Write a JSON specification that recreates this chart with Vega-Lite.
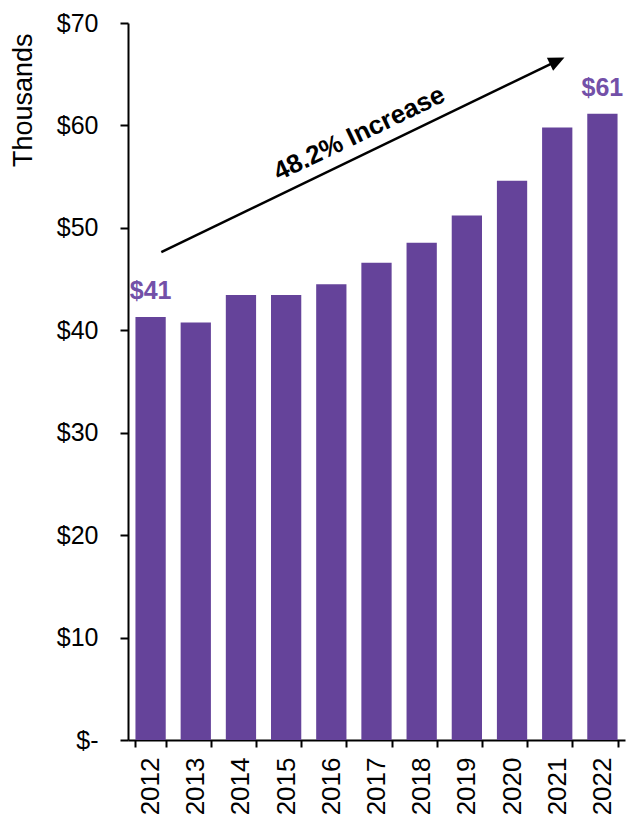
{
  "$schema": "https://vega.github.io/schema/vega-lite/v6.json",
  "autosize": "none",
  "padding": {"left": 128, "top": 23, "right": 1, "bottom": 74},
  "width": 497,
  "height": 717,
  "config": {"font": "Liberation Sans", "view": {"stroke": null}},
  "datasets": {
    "bars": [
      {"year": "2012", "value": 41.3, "label": "$41"},
      {"year": "2013", "value": 40.75, "label": ""},
      {"year": "2014", "value": 43.45, "label": ""},
      {"year": "2015", "value": 43.45, "label": ""},
      {"year": "2016", "value": 44.5, "label": ""},
      {"year": "2017", "value": 46.6, "label": ""},
      {"year": "2018", "value": 48.55, "label": ""},
      {"year": "2019", "value": 51.2, "label": ""},
      {"year": "2020", "value": 54.6, "label": ""},
      {"year": "2021", "value": 59.8, "label": ""},
      {"year": "2022", "value": 61.15, "label": "$61"}
    ],
    "arrow": [{"x1": "2012", "x2": "2021", "y1": 47.63, "y2": 66.3}],
    "note": [{"x": "2016", "y": 59.2, "text": "48.2% Increase"}]
  },
  "layer": [
    {
      "data": {"name": "bars"},
      "mark": {"type": "bar", "color": "#65439A"},
      "encoding": {
        "x": {
          "field": "year",
          "type": "nominal",
          "scale": {"paddingInner": 0.33, "paddingOuter": 0.165},
          "axis": {
            "title": null,
            "labelAngle": 270,
            "labelAlign": "right",
            "labelBaseline": "middle",
            "labelFontSize": 26,
            "labelColor": "#000000",
            "labelPadding": 10,
            "tickBand": "extent",
            "tickSize": 7,
            "tickWidth": 2,
            "tickColor": "#000000",
            "domainWidth": 2,
            "domainColor": "#000000"
          }
        },
        "y": {
          "field": "value",
          "type": "quantitative",
          "scale": {"domain": [0, 70], "nice": false},
          "axis": {
            "values": [0, 10, 20, 30, 40, 50, 60, 70],
            "labelExpr": "datum.value == 0 ? '$-\u00a0\u00a0' : '$' + datum.value",
            "labelFontSize": 25,
            "labelColor": "#000000",
            "labelPadding": 22,
            "tickSize": 8,
            "tickWidth": 2,
            "tickColor": "#000000",
            "domainWidth": 2,
            "domainColor": "#000000",
            "grid": false,
            "title": "Thousands",
            "titleFontSize": 27,
            "titleFontWeight": "normal",
            "titleColor": "#000000",
            "titleAngle": 270,
            "titleAlign": "right",
            "titleBaseline": "middle",
            "titleX": -105,
            "titleY": 10
          }
        }
      }
    },
    {
      "data": {"name": "bars"},
      "mark": {"type": "text", "baseline": "alphabetic", "dy": -17.5, "fontSize": 25, "fontWeight": "bold", "color": "#7350A8"},
      "encoding": {
        "x": {"field": "year", "type": "nominal"},
        "y": {"field": "value", "type": "quantitative"},
        "text": {"field": "label"}
      }
    },
    {
      "data": {"name": "arrow"},
      "mark": {"type": "rule", "color": "#000000", "strokeWidth": 2.5, "xOffset": 10.7},
      "encoding": {
        "x": {"field": "x1", "type": "nominal"},
        "x2": {"field": "x2"},
        "y": {"field": "y1", "type": "quantitative"},
        "y2": {"field": "y2"}
      }
    },
    {
      "data": {"name": "arrow"},
      "mark": {"type": "point", "shape": "M0,-1L-0.9,1L0.9,1Z", "filled": true, "color": "#000000", "opacity": 1, "size": 256, "angle": 64.4},
      "encoding": {
        "x": {"field": "x2", "type": "nominal"},
        "y": {"field": "y2", "type": "quantitative"}
      }
    },
    {
      "data": {"name": "note"},
      "mark": {"type": "text", "align": "center", "baseline": "middle", "fontSize": 26, "fontWeight": "bold", "color": "#000000", "angle": 334.4, "xOffset": 28},
      "encoding": {
        "x": {"field": "x", "type": "nominal"},
        "y": {"field": "y", "type": "quantitative"},
        "text": {"field": "text"}
      }
    }
  ]
}
